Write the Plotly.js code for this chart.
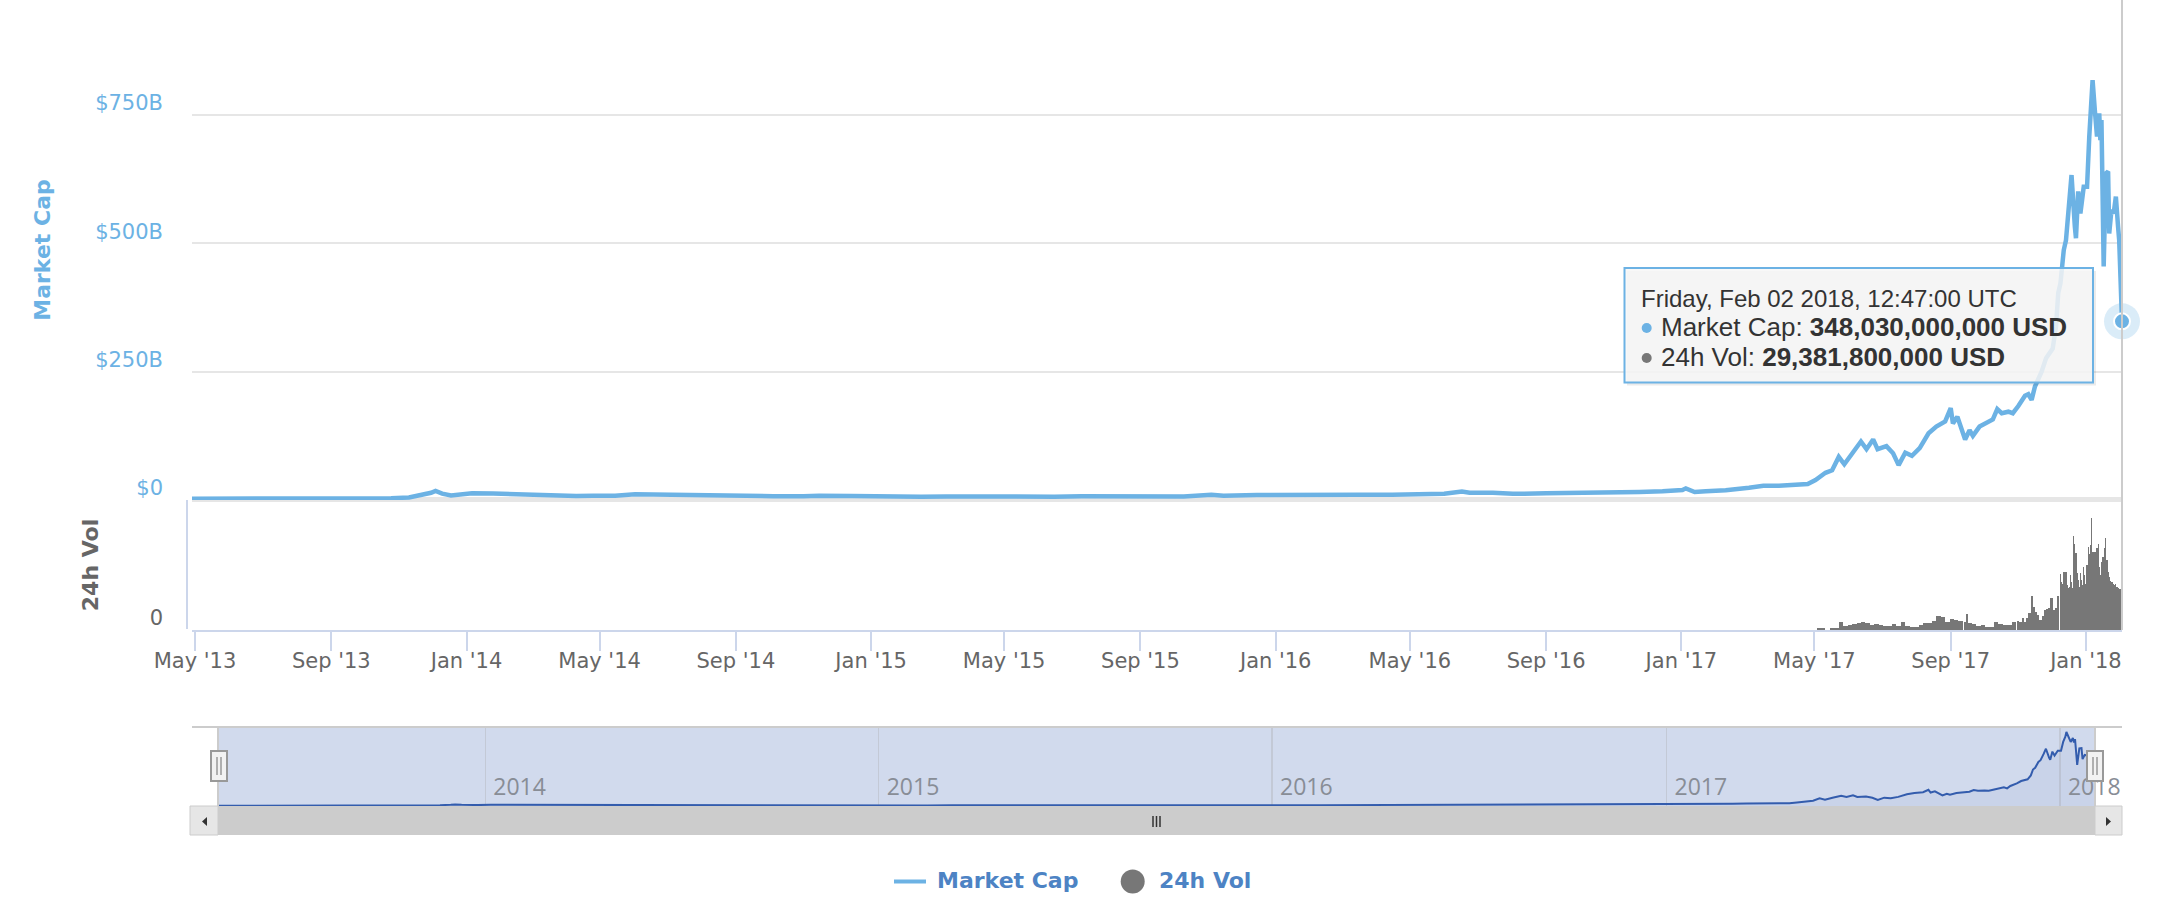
<!DOCTYPE html>
<html><head><meta charset="utf-8">
<script src="https://cdn.plot.ly/plotly-3.0.1.min.js"></script>
<style>html,body{margin:0;padding:0;background:#fff;}#chart{width:2166px;height:908px;}</style>
</head><body><div id="chart"></div>
<script>
// ---- DATA (values in billions of USD) ----
const capDates = [
'2013-04-28','2013-06-01','2013-07-06','2013-08-01','2013-09-01','2013-10-01','2013-10-25','2013-11-10','2013-11-20','2013-11-30',
'2013-12-04','2013-12-10','2013-12-18','2013-12-25','2014-01-06','2014-01-25','2014-02-10','2014-02-25','2014-03-05','2014-03-25',
'2014-04-10','2014-04-25','2014-05-15','2014-06-02','2014-06-15','2014-07-15','2014-08-18','2014-09-15','2014-10-05','2014-11-01',
'2014-11-15','2014-12-15','2015-01-01','2015-01-14','2015-02-15','2015-03-10','2015-04-15','2015-05-15','2015-06-15','2015-07-10',
'2015-08-20','2015-09-20','2015-10-10','2015-11-04','2015-11-15','2015-12-15','2016-01-15','2016-02-15','2016-03-15','2016-04-15',
'2016-05-15','2016-06-01','2016-06-17','2016-06-24','2016-07-15','2016-08-02','2016-09-01','2016-10-01','2016-11-01','2016-11-24',
'2016-12-15','2017-01-02','2017-01-05','2017-01-13','2017-01-23','2017-02-10','2017-03-03','2017-03-16','2017-03-30','2017-04-14',
'2017-04-25','2017-05-02','2017-05-11','2017-05-17','2017-05-23','2017-05-28','2017-06-04','2017-06-12','2017-06-17','2017-06-23',
'2017-06-27','2017-07-05','2017-07-11','2017-07-16','2017-07-22','2017-07-28','2017-08-04','2017-08-12','2017-08-19','2017-08-27',
'2017-09-01','2017-09-03','2017-09-07','2017-09-14','2017-09-18','2017-09-21','2017-09-27','2017-10-03','2017-10-09','2017-10-13',
'2017-10-17','2017-10-23','2017-10-27','2017-11-01','2017-11-07','2017-11-10','2017-11-13','2017-11-16','2017-11-22','2017-11-26',
'2017-12-02','2017-12-05','2017-12-07','2017-12-09','2017-12-12','2017-12-14','2017-12-17','2017-12-19','2017-12-22','2017-12-23',
'2017-12-25','2017-12-27','2017-12-30','2018-01-02','2018-01-04','2018-01-06','2018-01-07','2018-01-09','2018-01-11','2018-01-13',
'2018-01-14','2018-01-15','2018-01-16','2018-01-17','2018-01-19','2018-01-21','2018-01-22','2018-01-24','2018-01-26','2018-01-28',
'2018-01-30','2018-01-31','2018-02-02 12:47'];
const capValues = [
2.5,2.4,1.9,2.2,2.6,2.6,3.4,5.0,8.5,14.0,
17.5,12.5,9.0,10.5,13.0,12.5,11.5,9.5,11.0,9.5,
8.0,8.5,8.5,11.0,10.5,10.5,9.0,8.5,7.5,7.5,
8.5,8.0,7.5,6.0,6.3,7.0,6.3,6.3,6.4,7.3,
6.5,6.5,6.8,10.0,8.3,9.8,9.2,9.3,10.2,10.2,
10.8,12.0,16.5,14.0,14.0,12.0,13.0,13.2,14.3,15.5,
17.0,19.5,22.7,15.6,16.9,18.8,24.0,27.9,27.9,29.9,
31.2,39,53,58,84,69.5,91,114,99,118,
99,105,91,68,92,86,101,130,143,153,
179,149,162,118,136,125,143,149,157,177,
169,172,169,183,203,206,195,221,250,276,
295,338,403,422,487,506,578,633,532,510,
601,558,610,610,708,766,818,760,708,753,
701,740,623,455,636,640,519,565,558,591,
532,506,348.03];

const volDates = [
'2017-05-05','2017-05-09','2017-05-13','2017-05-17','2017-05-21','2017-05-25','2017-05-29','2017-06-02','2017-06-06','2017-06-10',
'2017-06-14','2017-06-18','2017-06-22','2017-06-26','2017-06-30','2017-07-04','2017-07-08','2017-07-12','2017-07-16','2017-07-20',
'2017-07-24','2017-07-28','2017-08-01','2017-08-05','2017-08-09','2017-08-13','2017-08-17','2017-08-21','2017-08-25','2017-08-29',
'2017-09-02','2017-09-06','2017-09-10','2017-09-14','2017-09-16','2017-09-18','2017-09-22','2017-09-26','2017-09-30','2017-10-04',
'2017-10-08','2017-10-12','2017-10-16','2017-10-20','2017-10-24','2017-10-28','2017-11-01','2017-11-03','2017-11-05','2017-11-07',
'2017-11-09','2017-11-11','2017-11-13','2017-11-15','2017-11-17','2017-11-19','2017-11-21','2017-11-23','2017-11-25','2017-11-27',
'2017-11-29','2017-12-01','2017-12-03','2017-12-05','2017-12-07','2017-12-09','2017-12-10','2017-12-11','2017-12-12','2017-12-13',
'2017-12-14','2017-12-15','2017-12-16','2017-12-17','2017-12-18','2017-12-19','2017-12-20','2017-12-21','2017-12-22','2017-12-23',
'2017-12-24','2017-12-25','2017-12-26','2017-12-27','2017-12-28','2017-12-29','2017-12-30','2017-12-31','2018-01-01','2018-01-02',
'2018-01-03','2018-01-04','2018-01-05','2018-01-06','2018-01-07','2018-01-08','2018-01-09','2018-01-10','2018-01-11','2018-01-12',
'2018-01-13','2018-01-14','2018-01-15','2018-01-16','2018-01-17','2018-01-18','2018-01-19','2018-01-20','2018-01-21','2018-01-22',
'2018-01-23','2018-01-24','2018-01-25','2018-01-26','2018-01-27','2018-01-28','2018-01-29','2018-01-30','2018-01-31','2018-02-01',
'2018-02-02'];
const volValues = [
1.2,1.2,0.3,1.2,1.2,5.5,3.1,3.6,4.6,5.1,
5.5,4.8,3.8,4.6,3.6,3.1,2.6,4.3,3.1,5.8,
3.1,1.9,2.2,3.4,5.3,5.1,6.5,9.9,9.4,5.5,
7.9,7.2,6.7,5.8,11.5,4.8,4.6,2.9,3.4,2.2,
2.2,6.0,4.1,3.6,3.4,5.8,6.5,6.0,8.9,6.0,
8.9,12.0,24.8,16.8,13.2,10.8,7.2,10.3,14.4,14.9,
15.6,22.8,14.4,15.6,24.8,40.2,34.9,32.9,42.1,41.6,
42.1,32.5,30.5,31.3,39.7,34.4,30.5,67.8,61.8,55.3,
40.9,36.1,31.3,40.9,36.1,32.5,45.7,39.7,32.9,46.9,
60.1,54.6,61.3,81.0,56.0,56.0,56.0,56.0,58.9,61.8,
45.7,39.7,49.3,52.9,52.9,58.9,66.1,50.5,41.6,38.5,
35.4,34.9,34.4,33.4,32.5,32.9,31.3,30.1,29.3,29.3,
29.38];

const capTicks = [0, 250, 500, 750];
const capTickText = ['$0', '$250B', '$500B', '$750B'];
const volTicks = [0];
const volTickText = ['0'];
const tooltipHeader = 'Friday, Feb 02 2018, 12:47:00 UTC';
const tooltipCap = 'Market Cap: <b>348,030,000,000 USD</b>';
const tooltipVol = '24h Vol: <b>29,381,800,000 USD</b>';

// ---- LAYOUT HELPERS ----
const W = 2166, H = 908, L = 192, R = 2166;
const MAIN_R = 2122;
const px = x => (x - L) / (R - L);
const py = y => 1 - y / H;
const FONT = 'DejaVu Sans, Verdana, sans-serif';
const capColor = '#6cb2e4';

const DAY = 86400000;
const volWidths = volDates.map((d, i) => {
  if (i === volDates.length - 1) return DAY;
  return (new Date(volDates[i + 1]) - new Date(d));
});
const last = capDates.length - 1;

// navigator: data spans pixels 218 -> 2095; axis extended to 2150 so the last year label fits
const navStart = Date.parse('2013-04-28T00:00:00Z');
const navEnd = Date.parse('2018-02-02T12:47:00Z');
const navExtEnd = navEnd + (2150 - 2095) / (2095 - 218) * (navEnd - navStart);

const traces = [
  {x: capDates, y: capValues, xaxis: 'x', yaxis: 'y', type: 'scatter', mode: 'lines',
   line: {color: capColor, width: 4.5}, hoverinfo: 'skip'},
  {x: volDates, y: volValues, xaxis: 'x', yaxis: 'y2', type: 'bar', width: volWidths,
   marker: {color: '#777777', line: {width: 0}}, hoverinfo: 'skip'},
  {x: capDates, y: capValues, xaxis: 'x2', yaxis: 'y3', type: 'scatter', mode: 'lines',
   line: {color: '#335cad', width: 2}, fill: 'tozeroy', fillcolor: 'rgba(51,92,173,0.05)', hoverinfo: 'skip'},
  {x: [capDates[last]], y: [capValues[last]], xaxis: 'x', yaxis: 'y', type: 'scatter', mode: 'markers',
   marker: {size: 36, color: 'rgba(108,178,228,0.25)', line: {width: 0}}, cliponaxis: false, hoverinfo: 'skip'},
  {x: [capDates[last]], y: [capValues[last]], xaxis: 'x', yaxis: 'y', type: 'scatter', mode: 'markers',
   marker: {size: 16, color: capColor, line: {color: '#ffffff', width: 2}}, cliponaxis: false, hoverinfo: 'skip'}
];

const line = (x0, y0, x1, y1, color, width, layer) => ({type: 'line', xref: 'paper', yref: 'paper',
  x0: px(x0), y0: py(y0), x1: px(x1), y1: py(y1), line: {color: color, width: width}, layer: layer || 'above'});
const rect = (x0, y0, x1, y1, fill, lc, lw, layer) => ({type: 'rect', xref: 'paper', yref: 'paper',
  x0: px(x0), y0: py(y0), x1: px(x1), y1: py(y1), fillcolor: fill, line: {color: lc || 'rgba(0,0,0,0)', width: lw || 0}, layer: layer || 'above'});
const circ = (cx, cy, r, fill) => ({type: 'circle', xref: 'paper', yref: 'paper',
  x0: px(cx - r), y0: py(cy + r), x1: px(cx + r), y1: py(cy - r), fillcolor: fill, line: {width: 0}});
const tri = (pts, fill) => ({type: 'path', xref: 'paper', yref: 'paper',
  path: 'M' + pts.map(p => px(p[0]) + ',' + py(p[1])).join('L') + 'Z', fillcolor: fill, line: {width: 0}});

const shapes = [
  line(L, 499.5, MAIN_R, 499.5, '#e6e6e6', 5, 'below'),
  line(187, 500, 187, 629, '#ccd6eb', 2),
  line(2122, 0, 2122, 630, '#cccccc', 2),
  rect(218, 727, 2095, 806, 'rgba(102,133,194,0.3)', null, 0, 'below'),
  rect(2096, 722, 2166, 806, '#ffffff', null, 0, 'below'),
  line(L, 727, MAIN_R, 727, '#cccccc', 2),
  line(218, 727, 218, 806, '#cccccc', 2),
  line(2095, 727, 2095, 806, '#cccccc', 2),
  rect(218, 806, 2095, 835, '#cccccc'),
  rect(190, 806, 218, 835, '#e6e6e6', '#cccccc', 1),
  rect(2095, 806, 2122, 835, '#e6e6e6', '#cccccc', 1),
  tri([[207, 817], [207, 826], [202, 821.5]], '#333333'),
  tri([[2106, 817], [2106, 826], [2111, 821.5]], '#333333'),
  line(1153, 816, 1153, 827, '#333333', 1.5),
  line(1156.5, 816, 1156.5, 827, '#333333', 1.5),
  line(1160, 816, 1160, 827, '#333333', 1.5),
  rect(211, 751, 227, 781, '#f2f2f2', '#999999', 2),
  line(217, 757, 217, 775, '#999999', 1.5),
  line(221, 757, 221, 775, '#999999', 1.5),
  rect(2087, 751, 2103, 781, '#f2f2f2', '#999999', 2),
  line(2093, 757, 2093, 775, '#999999', 1.5),
  line(2097, 757, 2097, 775, '#999999', 1.5),
  rect(1627, 271, 2096, 385.5, 'rgba(0,0,0,0.08)'),
  rect(1624.5, 268, 2093, 382.5, 'rgba(247,247,247,0.85)', capColor, 2),
  circ(1646.7, 328, 5, capColor),
  circ(1646.7, 358, 5, '#777777'),
  line(894, 881.5, 926, 881.5, capColor, 4),
  circ(1132.7, 881.5, 12, '#777777')
];

const ann = (text, x, y, size, color, family) => ({text: text, xref: 'paper', yref: 'paper', x: px(x), y: py(y),
  xanchor: 'left', yanchor: 'middle', showarrow: false, font: {family: family || FONT, size: size, color: color}});
const TIPFONT = 'Liberation Sans, Arial, sans-serif';
const annotations = [
  ann(tooltipHeader, 1639, 298, 24, '#333333', TIPFONT),
  ann(tooltipCap, 1659, 327, 26, '#333333', TIPFONT),
  ann(tooltipVol, 1659, 357, 26, '#333333', TIPFONT),
  ann('<b>Market Cap</b>', 935, 880, 22, '#4d83c4'),
  ann('<b>24h Vol</b>', 1157, 880, 22, '#4d83c4')
];

const layout = {
  width: W, height: H,
  margin: {l: L, r: W - R, t: 0, b: 0},
  paper_bgcolor: '#ffffff', plot_bgcolor: 'rgba(0,0,0,0)',
  showlegend: false, bargap: 0,
  font: {family: FONT},
  xaxis: {domain: [0, px(MAIN_R)], anchor: 'y2', type: 'date', range: ['2013-04-28 07:00', '2018-02-02 12:47'],
    tick0: '2013-05-01', dtick: 'M4', tickformat: "%b '%y", ticks: 'outside', ticklen: 19, tickwidth: 2,
    tickcolor: '#ccd6eb', showline: true, linecolor: '#ccd6eb', linewidth: 2, showgrid: false, zeroline: false,
    ticklabelstandoff: -8,
    tickfont: {family: FONT, size: 21, color: '#666666'}, fixedrange: true},
  yaxis: {domain: [py(500), 1], anchor: 'x', range: [0, 974], tickmode: 'array', tickvals: capTicks, ticktext: capTickText,
    showgrid: true, gridcolor: '#e6e6e6', gridwidth: 2, zeroline: false, showline: false, ticks: '',
    tickfont: {family: FONT, size: 21, color: capColor}, ticklabelshift: -12, ticklabelstandoff: 28,
    title: {text: '<b>Market Cap</b>', font: {family: FONT, size: 22, color: capColor}, standoff: 38}, fixedrange: true},
  yaxis2: {domain: [py(630), py(500)], anchor: 'x', range: [0, 93.8], tickmode: 'array', tickvals: volTicks, ticktext: volTickText,
    showgrid: false, zeroline: false, showline: false, ticks: '',
    tickfont: {family: FONT, size: 21, color: '#666666'}, ticklabelshift: -12, ticklabelstandoff: 28,
    title: {text: '<b>24h Vol</b>', font: {family: FONT, size: 22, color: '#666666'}, standoff: 44}, fixedrange: true},
  xaxis2: {domain: [px(218), px(2150)], anchor: 'y3', type: 'date', range: [navStart, navExtEnd],
    tick0: '2014-01-01', dtick: 'M12', tickformat: '%Y', ticklabelposition: 'inside right', ticks: '',
    ticklabelshift: 8,
    showgrid: true, gridcolor: '#c3c9d6', gridwidth: 1.5, showline: false, zeroline: false,
    tickfont: {family: 'Open Sans, sans-serif', size: 23, color: '#888d96'}, fixedrange: true},
  yaxis3: {domain: [py(806), py(727)], anchor: 'x2', range: [0, 873], visible: false, fixedrange: true},
  shapes: shapes,
  annotations: annotations
};

Plotly.newPlot('chart', traces, layout, {displayModeBar: false, staticPlot: true});
</script>
</body></html>
